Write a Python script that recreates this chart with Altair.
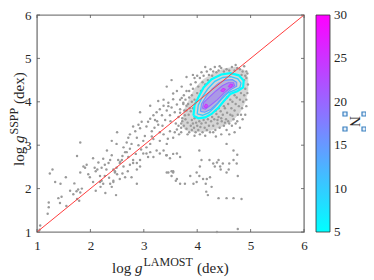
import altair as alt
import pandas as pd

FONT = "Liberation Serif"
W, H = 267, 217

# ---- scattered stars: (log g LAMOST, log g SSPP) ----
giants = [
    (1.05, 1.05), (1.06, 1.15), (1.2, 1.42), (1.22, 1.68), (1.22, 1.57), (1.24, 2.35), (1.29, 2.44),
    (1.34, 2.15), (1.43, 1.67), (1.40, 1.78), (1.46, 1.81), (1.44, 2.11), (1.54, 2.26),
    (1.68, 1.87), (1.75, 2.75), (1.81, 2.37), (1.74, 1.94), (1.77, 1.98), (1.81, 1.91),
    (1.84, 2.0), (1.75, 1.76), (1.79, 1.72), (1.81, 3.06), (1.87, 2.51), (1.9, 2.48),
    (1.96, 2.33), (1.99, 2.26), (1.55, 1.6), (1.62, 1.95), (1.7, 2.12), (1.93, 2.55),
    (2.05, 2.7), (2.08, 2.48), (2.1, 2.4), (2.13, 2.44), (2.18, 2.15), (2.21, 2.18),
    (2.24, 2.11), (2.19, 2.04), (2.27, 2.29), (2.3, 2.44), (2.34, 2.59), (2.37, 2.11),
    (2.4, 2.04), (2.43, 2.18), (2.46, 2.4), (2.49, 2.48), (2.5, 2.33), (2.55, 2.59),
    (2.59, 2.66), (2.62, 2.51), (2.68, 2.84), (2.71, 2.73), (2.74, 2.92), (2.8, 2.59),
    (2.87, 2.44), (2.93, 2.66), (2.77, 2.26), (2.87, 2.11), (2.24, 2.69), (2.27, 2.55),
    (2.31, 2.88), (2.37, 2.66), (2.40, 2.77), (2.43, 2.44), (2.46, 2.37), (2.49, 3.03),
    (2.52, 2.66), (2.56, 2.62), (2.6, 2.75), (2.62, 2.95), (2.65, 2.84), (2.68, 3.06),
    (2.71, 3.17), (2.74, 3.25), (2.77, 3.03), (2.8, 3.43), (2.84, 3.32), (2.87, 3.17),
    (2.9, 3.47), (2.93, 3.39), (2.96, 3.54), (2.99, 3.1), (2.8, 2.66), (2.87, 2.59),
    (2.93, 2.51), (2.74, 2.55), (2.55, 2.22), (2.65, 2.26), (2.43, 2.15), (2.21, 2.48),
    (2.18, 2.29), (2.1, 1.95), (2.28, 1.9), (2.48, 1.85), (2.6, 2.35), (2.4, 3.1),
    (2.5, 3.3), (2.15, 2.6), (2.35, 2.25), (2.05, 2.15), (2.7, 2.4), (2.95, 2.9),
    (2.85, 2.8), (2.9, 3.0),
    (3.02, 3.21), (3.05, 3.43), (3.08, 3.54), (3.12, 3.61), (3.15, 3.32), (3.18, 3.69),
    (3.21, 3.58), (3.24, 3.76), (3.27, 3.47), (3.3, 3.83), (3.34, 3.69), (3.37, 3.91),
    (3.4, 3.58), (3.43, 3.8), (3.46, 3.98), (3.49, 3.69), (3.52, 3.87), (3.55, 4.06),
    (3.58, 3.76), (3.62, 3.94), (3.68, 3.83), (3.71, 4.09), (3.74, 3.98), (3.77, 3.69),
    (3.8, 3.91), (3.12, 3.91), (2.93, 3.76), (3.27, 4.02), (3.05, 2.81), (3.12, 2.84),
    (3.18, 2.73), (3.3, 2.81), (3.37, 2.88), (3.43, 2.77), (3.49, 2.7), (3.62, 2.81),
    (3.68, 2.73), (3.43, 2.37), (3.52, 2.4), (3.62, 2.22), (3.87, 2.29), (3.99, 2.37),
    (2.99, 2.81), (3.05, 2.95), (3.08, 2.73), (3.12, 3.03), (3.18, 3.14), (3.24, 2.88),
    (3.3, 3.1), (3.37, 3.25), (3.43, 3.03), (3.49, 3.32), (3.55, 3.17), (3.62, 3.36),
    (3.46, 2.37), (3.55, 2.4), (3.52, 4.5), (3.8, 4.57), (3.71, 4.35), (3.43, 4.35),
    (3.55, 4.19), (3.37, 4.05), (3.68, 4.05), (3.46, 3.9), (3.2, 3.4), (3.35, 3.45),
    (3.5, 3.55), (3.6, 3.5), (3.65, 3.65), (3.7, 3.4), (3.58, 3.3), (3.45, 3.15),
    (3.3, 3.3), (3.25, 3.55), (3.15, 3.2), (3.62, 4.25), (3.66, 3.25), (3.72, 3.55),
]

dwarfs = [
    (3.72, 3.62), (3.75, 3.45), (3.78, 3.6), (3.8, 3.38), (3.82, 3.52), (3.84, 3.7),
    (3.85, 3.3), (3.86, 3.85), (3.88, 3.45), (3.9, 3.58), (3.9, 3.35), (3.92, 3.5),
    (3.94, 3.4), (3.95, 3.62), (3.97, 3.3), (3.98, 3.52), (4.0, 3.45), (4.02, 3.35),
    (4.04, 3.55), (4.06, 3.42), (4.08, 3.5), (4.1, 3.3), (4.12, 3.58), (4.14, 3.4),
    (4.16, 3.52), (4.18, 3.35), (4.2, 3.6), (4.22, 3.45), (4.24, 3.3), (4.26, 3.55),
    (3.83, 3.95), (3.85, 4.1), (3.88, 3.78), (3.9, 4.0), (3.92, 3.85), (3.8, 3.8),
    (3.78, 4.05), (3.76, 3.8), (3.7, 3.5), (3.68, 3.75), (3.74, 3.95), (3.82, 3.25),
    (3.95, 3.22), (4.05, 3.25), (4.15, 3.22), (3.65, 3.45), (3.7, 3.3),
    (4.28, 3.65), (4.3, 3.45), (4.32, 3.6), (4.34, 3.35), (4.36, 3.72), (4.38, 3.5),
    (4.4, 3.65), (4.42, 3.4), (4.44, 3.78), (4.46, 3.55), (4.48, 3.7), (4.5, 3.45),
    (4.52, 3.85), (4.54, 3.6), (4.56, 3.75), (4.58, 3.95), (4.6, 3.5), (4.62, 3.7),
    (4.64, 3.85), (4.66, 4.0), (4.68, 3.6), (4.7, 3.8), (4.72, 3.95), (4.74, 4.1),
    (4.76, 3.7), (4.78, 3.9), (4.8, 4.05), (4.82, 4.2), (4.84, 3.85), (4.86, 4.0),
    (4.88, 4.15), (4.9, 4.3), (4.92, 4.05), (4.94, 4.2), (4.55, 3.35), (4.65, 3.45),
    (4.75, 3.55), (4.85, 3.6), (4.8, 3.4), (4.7, 3.3), (4.6, 3.25), (4.45, 3.25),
    (4.35, 3.2), (4.5, 3.9), (4.4, 3.85), (4.35, 3.8), (4.62, 4.05), (4.7, 4.15),
    (4.56, 4.1), (4.9, 3.7), (4.92, 3.9), (4.95, 4.4), (4.3, 3.3), (4.45, 3.62),
    (4.58, 3.55), (4.72, 3.5), (4.82, 3.7), (4.66, 3.68), (4.52, 3.52), (4.38, 3.58),
    (4.88, 4.5), (4.9, 4.6), (4.92, 4.7), (4.85, 4.7), (4.8, 4.75), (4.75, 4.78),
    (4.7, 4.72), (4.65, 4.8), (4.6, 4.72), (4.55, 4.75), (4.5, 4.7), (4.45, 4.78),
    (4.92, 4.55), (4.94, 4.65), (4.83, 4.62), (4.88, 4.82), (4.72, 4.85),
    (3.85, 4.25), (3.88, 4.4), (3.9, 4.15), (3.92, 4.3), (3.95, 4.05), (3.97, 4.45),
    (4.0, 4.2), (4.02, 4.35), (4.05, 4.55), (4.07, 4.25), (4.1, 4.45), (4.12, 4.6),
    (4.15, 4.4), (4.18, 4.7), (4.2, 4.5), (4.22, 4.62), (4.25, 4.75), (4.28, 4.6),
    (4.3, 4.7), (4.33, 4.8), (4.36, 4.68), (4.4, 4.72), (4.42, 4.82), (3.95, 4.55),
    (3.8, 4.25), (3.75, 4.15), (4.0, 4.6), (3.92, 4.62), (4.08, 4.68), (4.15, 4.8),
]

outliers = [
    (4.04, 2.88), (4.08, 2.66), (4.05, 2.51), (4.04, 2.29), (4.11, 2.22), (4.16, 2.11),
    (4.17, 1.93), (4.2, 1.85), (4.23, 2.66), (4.3, 2.58), (4.33, 2.51), (4.37, 2.6),
    (4.4, 2.66), (4.43, 2.51), (4.44, 2.44), (4.48, 2.58), (4.55, 2.37), (4.59, 2.44),
    (4.6, 2.58), (4.68, 2.66), (4.74, 2.58), (4.76, 2.29), (4.18, 2.22), (4.24, 2.26),
    (4.27, 2.04), (4.4, 1.78), (4.55, 1.78), (4.68, 1.78), (4.83, 1.76), (4.76, 1.07),
    (4.37, 1.0), (3.99, 2.15), (3.93, 2.11), (3.77, 2.11), (3.68, 2.11), (3.55, 2.37),
    (3.52, 2.29), (3.6, 2.18), (3.42, 2.77), (3.55, 2.8), (4.55, 3.03), (4.68, 2.88),
    (4.75, 2.78),
]

# ---- density contours (N levels) ----
dense_region = [(3.72, 3.45), (3.75, 3.8), (3.85, 4.05), (3.95, 4.3), (4.1, 4.5), (4.3, 4.66),
                (4.5, 4.76), (4.7, 4.8), (4.88, 4.73), (4.95, 4.55), (4.95, 4.25), (4.9, 4.0),
                (4.8, 3.75), (4.65, 3.55), (4.45, 3.42), (4.2, 3.32), (3.95, 3.3), (3.78, 3.35),
                (3.72, 3.45)]
contour_levels = [5, 10, 15, 20, 25, 25, 25]
contour_paths = [
    [(3.93, 3.68), (3.95, 3.92), (4.03, 4.12), (4.12, 4.33), (4.27, 4.52), (4.45, 4.63),
     (4.62, 4.66), (4.78, 4.61), (4.87, 4.49), (4.86, 4.33), (4.75, 4.24), (4.62, 4.18),
     (4.5, 4.02), (4.4, 3.87), (4.27, 3.72), (4.15, 3.64), (4.02, 3.62), (3.93, 3.68)],
    [(4.0, 3.72), (4.02, 3.92), (4.1, 4.12), (4.2, 4.3), (4.33, 4.47), (4.48, 4.56),
     (4.63, 4.58), (4.76, 4.53), (4.82, 4.43), (4.8, 4.33), (4.7, 4.27), (4.57, 4.2),
     (4.45, 4.05), (4.33, 3.88), (4.22, 3.75), (4.1, 3.69), (4.0, 3.72)],
    [(4.06, 3.78), (4.08, 3.95), (4.17, 4.13), (4.28, 4.3), (4.4, 4.43), (4.53, 4.5),
     (4.66, 4.51), (4.74, 4.45), (4.74, 4.36), (4.63, 4.28), (4.5, 4.15), (4.38, 3.97),
     (4.26, 3.83), (4.14, 3.76), (4.06, 3.78)],
    [(4.1, 3.85), (4.12, 3.98), (4.22, 4.1), (4.35, 4.25), (4.47, 4.37), (4.58, 4.44),
     (4.68, 4.44), (4.7, 4.37), (4.6, 4.3), (4.5, 4.2), (4.38, 4.05), (4.25, 3.92),
     (4.15, 3.83), (4.1, 3.85)],
    [(4.13, 3.88), (4.16, 3.95), (4.2, 3.92), (4.17, 3.86), (4.13, 3.88)],
    [(4.44, 4.25), (4.48, 4.31), (4.53, 4.29), (4.49, 4.23), (4.44, 4.25)],
    [(4.58, 4.35), (4.62, 4.41), (4.67, 4.39), (4.63, 4.33), (4.58, 4.35)],
]
contour_fills = ["transparent", "transparent", "#b7b5dc", "#ab98e6", "#cc55f5", "#cc55f5", "#cc55f5"]
contour_widths = [2.2, 1.3, 1.1, 1.1, 1.0, 1.0, 1.0]

ticks = [1, 2, 3, 4, 5, 6]
cbar_ticks = [5, 10, 15, 20, 25, 30]
cbar_min, cbar_max = 5, 30

# ---- tables ----
pts = giants + dwarfs + outliers
df_pts = pd.DataFrame({"x": [p[0] for p in pts], "y": [p[1] for p in pts]})
df_dense = pd.DataFrame({"x": [p[0] for p in dense_region], "y": [p[1] for p in dense_region],
                         "i": list(range(len(dense_region)))})
rows = []
for k, (lev, path, fc, sw) in enumerate(zip(contour_levels, contour_paths, contour_fills, contour_widths)):
    for i, (x, y) in enumerate(path):
        rows.append({"pid": k, "i": i, "x": x, "y": y, "level": lev, "fc": fc, "sw": sw})
df_cont = pd.DataFrame(rows)
df_one2one = pd.DataFrame({"x": [1, 6], "y": [1, 6]})
df_ticks = pd.DataFrame({"x": ticks, "y": ticks})

xs = alt.Scale(domain=[1, 6], nice=False, zero=False)
ys = alt.Scale(domain=[1, 6], nice=False, zero=False)
x_axis = alt.Axis(values=ticks, ticks=False, domain=False, grid=False, title=None,
                  labelFont=FONT, labelFontSize=13, labelColor="#262626", labelPadding=7,
                  labelAngle=0, labelFlush=False)
y_axis = alt.Axis(values=ticks, ticks=False, domain=False, grid=False, title=None,
                  labelFont=FONT, labelFontSize=13, labelColor="#262626", labelPadding=6,
                  labelFlush=False)
X = alt.X("x:Q", scale=xs, axis=x_axis)
Y = alt.Y("y:Q", scale=ys, axis=y_axis)

dense = alt.Chart(df_dense).mark_line(fill="#b3b3b3", stroke="#b3b3b3", strokeWidth=0.5,
                                      opacity=0.55).encode(x=X, y=Y, order="i:Q")

points = alt.Chart(df_pts).mark_circle(size=6, color="#9a9a9a", opacity=1).encode(x=X, y=Y)

contours = alt.Chart(df_cont).mark_line().encode(
    x=X, y=Y, order="i:Q", detail="pid:N",
    fill=alt.Fill("fc:N", scale=None),
    strokeWidth=alt.StrokeWidth("sw:Q", scale=None),
    stroke=alt.Stroke("level:Q",
                      scale=alt.Scale(domain=[cbar_min, cbar_max], range=["#00ffff", "#ff00ff"],
                                      interpolate="rgb"),
                      legend=alt.Legend(orient="none", legendX=W + 12, legendY=0, direction="vertical",
                                        gradientLength=H, gradientThickness=14, title=None,
                                        labelExpr="''", values=cbar_ticks,
                                        gradientStrokeColor="#333333", gradientStrokeWidth=0.8,
                                        padding=0)),
)

one2one = alt.Chart(df_one2one).mark_line(color="#ff3d3d", strokeWidth=1).encode(x=X, y=Y)

tick_style = dict(color="#555555", strokeWidth=0.8)
tb = alt.Chart(df_ticks).mark_rule(**tick_style).encode(x=X, y=alt.value(H), y2=alt.value(H - 3))
tt = alt.Chart(df_ticks).mark_rule(**tick_style).encode(x=X, y=alt.value(0), y2=alt.value(3))
tl = alt.Chart(df_ticks).mark_rule(**tick_style).encode(y=Y, x=alt.value(0), x2=alt.value(3))
tr = alt.Chart(df_ticks).mark_rule(**tick_style).encode(y=Y, x=alt.value(W), x2=alt.value(W - 3))

one = pd.DataFrame({"a": [0]})


def txt(s, x, y, size=15, angle=0, italic=False, color="#262626", baseline="alphabetic"):
    kw = dict(text=s, font=FONT, fontSize=size, align="left", baseline=baseline, color=color)
    if angle:
        kw["angle"] = angle
    if italic:
        kw["fontStyle"] = "italic"
    return alt.Chart(one).mark_text(**kw).encode(x=alt.value(x), y=alt.value(y))


labels = [
    # x title: log g^LAMOST (dex)
    txt("log", 75, 258), txt("g", 98, 258, italic=True),
    txt("LAMOST", 106.5, 251, size=12), txt("(dex)", 160, 258),
    # y title: log g^SSPP (dex)
    txt("log", -13, 151, angle=270), txt("g", -13, 128, angle=270, italic=True),
    txt("SSPP", -19, 119.5, size=12, angle=270), txt("(dex)", -13, 89, angle=270),
    # colorbar label
    txt("N", 313, 101, size=15, angle=90),
]
# colorbar tick labels
for v in cbar_ticks:
    labels.append(txt(str(v), W + 12 + 14 + 4, H * (cbar_max - v) / (cbar_max - cbar_min),
                      size=13, baseline="middle"))

# selection handles drawn around the colorbar label in the original figure
handle_pos = [(308, 99), (327, 99), (308, 114), (327, 114)]
handles = [
    alt.Chart(one).mark_point(shape="square", size=16, stroke="#3a80c0", fill="#e6f0fa",
                              fillOpacity=1, strokeWidth=1.2, opacity=1).encode(
        x=alt.value(hx), y=alt.value(hy))
    for hx, hy in handle_pos
]

chart = alt.layer(dense, points, contours, one2one, tb, tt, tl, tr, *handles, *labels).properties(
    width=W, height=H,
    autosize=alt.AutoSizeParams(type="none"),
    padding={"left": 29, "top": 7, "right": 62, "bottom": 48},
).configure_view(stroke="#7f7f7f", strokeWidth=1.4)

chart.save("out.html", embed_options={"renderer": "svg", "actions": False})
